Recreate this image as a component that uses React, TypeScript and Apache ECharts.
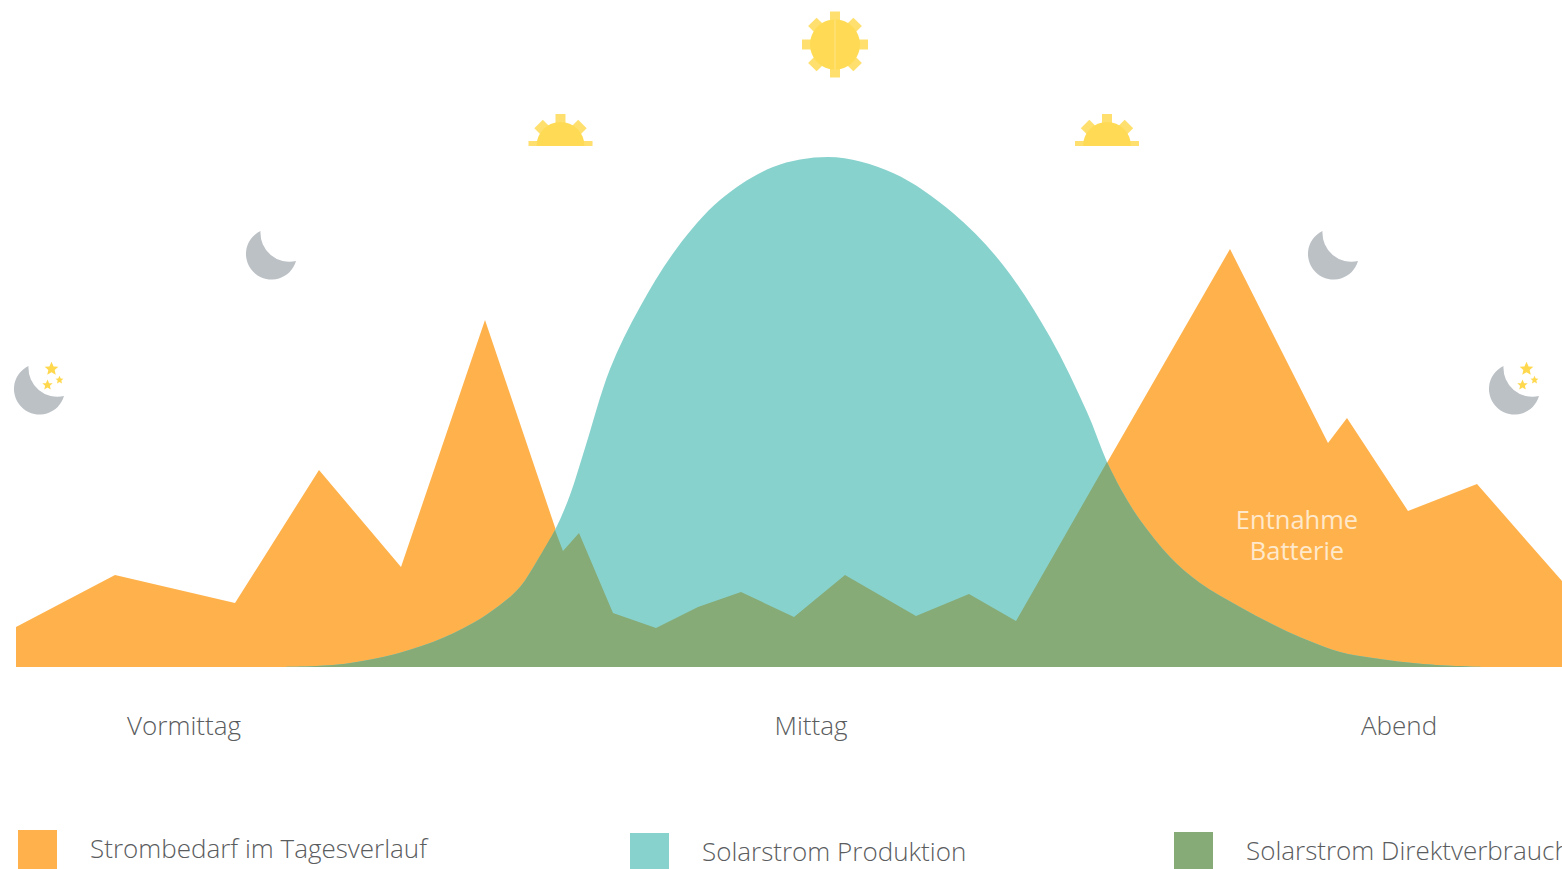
import React, { useEffect, useRef } from "react";
import * as echarts from "echarts";

// Daily energy profile, x = position along the day, y = power level (same scale for all series)
const demandX = [16, 115, 235, 319, 401, 485, 563, 579, 613, 656, 698, 741, 794, 845, 916, 969, 1016, 1230, 1328, 1347, 1408, 1477, 1562];
const demandY = [40, 92, 64, 197, 100, 347, 116, 134, 54, 39, 60, 75, 50, 92, 51, 73, 46, 418, 224, 249, 156, 183, 86];

const solarX = [275, 333, 383, 433, 473, 500, 520, 537, 555, 570, 585, 610, 640, 677, 720, 773, 828, 893, 953, 1003, 1050, 1087, 1107, 1123, 1140, 1170, 1200, 1240, 1280, 1307, 1340, 1373, 1423, 1483];
const solarY = [0, 2, 10, 25, 44, 62, 80, 106, 137, 172, 219, 298, 360, 419, 467, 500, 510, 494, 454, 402, 330, 255, 205, 174, 147, 110, 84, 60, 39, 27, 15, 9, 3, 0];

// Direct use: the rising flank of production, the demand outline at midday, the falling flank
const directRiseX = [275, 333, 383, 433, 473, 500, 520, 537, 555];
const directRiseY = [0, 2, 10, 25, 44, 62, 80, 106, 137];
const directMiddayX = [555, 563, 579, 613, 656, 698, 741, 794, 845, 916, 969, 1016, 1107];
const directMiddayY = [137, 116, 134, 54, 39, 60, 75, 50, 92, 51, 73, 46, 205];
const directFallX = [1107, 1123, 1140, 1170, 1200, 1240, 1280, 1307, 1340, 1373, 1423, 1483];
const directFallY = [205, 174, 147, 110, 84, 60, 39, 27, 15, 9, 3, 0];

const periodPositions = [184, 811, 1399];
const periodLabels = ["Vormittag", "Mittag", "Abend"];

const seriesNames = ["Strombedarf im Tagesverlauf", "Solarstrom Produktion", "Solarstrom Direktverbrauch"];
const seriesColors = ["#FFB24C", "#88D2CE", "#86AB76"];
const batteryLabel = "Entnahme\nBatterie";

const FONT = "'Open Sans', sans-serif";
const TEXT = "#5a5c5e";
const SUN = "#FFDB55";
const SUN_RAY = "#FFE06E";
const MOON = "#BCC1C6";
const STAR = "#FFD84E";

const zip = (xs: number[], ys: number[]) => xs.map((x, i) => [x, ys[i]]);

echarts.graphic.registerShape(
  "moonShape",
  echarts.graphic.extendPath("M-11 -23 A25.5 25.5 0 1 0 24.5 7 A29 29 0 0 1 -11 -23 Z", {}),
);
echarts.graphic.registerShape(
  "starShape",
  echarts.graphic.extendPath(
    "M0 -10 L2.9 -3.4 L9.5 -3.1 L4.4 1.3 L5.9 8.1 L0 4.6 L-5.9 8.1 L-4.4 1.3 L-9.5 -3.1 L-2.9 -3.4 Z",
    {},
  ),
);

function fullSun(cx: number, cy: number) {
  const rays = [0, 45, 90, 135, 180, 225, 270, 315].map((deg) => {
    const diagonal = deg % 90 !== 0;
    return {
      type: "rect",
      x: cx,
      y: cy,
      rotation: (deg * Math.PI) / 180,
      shape: diagonal
        ? { x: -6, y: -32, width: 12, height: 12 }
        : { x: -5, y: -33, width: 10, height: 12 },
      style: { fill: SUN_RAY },
    };
  });
  return [
    ...rays,
    { type: "circle", shape: { cx, cy, r: 25 }, style: { fill: SUN } },
    { type: "rect", shape: { x: cx - 1, y: cy - 25, width: 2, height: 50 }, style: { fill: SUN_RAY } },
  ];
}

function halfSun(cx: number, baseY: number) {
  const rays = [-45, 0, 45].map((deg) => ({
    type: "rect",
    x: cx,
    y: baseY,
    rotation: (deg * Math.PI) / 180,
    shape: deg === 0 ? { x: -5, y: -32, width: 10, height: 12 } : { x: -6, y: -31, width: 12, height: 12 },
    style: { fill: SUN_RAY },
  }));
  return [
    ...rays,
    { type: "rect", shape: { x: cx - 32, y: baseY - 5, width: 64, height: 5 }, style: { fill: SUN_RAY } },
    {
      type: "sector",
      shape: { cx, cy: baseY, r0: 0, r: 24, startAngle: Math.PI, endAngle: Math.PI * 2 },
      style: { fill: SUN },
    },
  ];
}

function moon(x: number, y: number) {
  return { type: "moonShape", x, y, style: { fill: MOON } };
}

function star(x: number, y: number, scale: number) {
  return { type: "starShape", x, y, scaleX: scale, scaleY: scale, style: { fill: STAR } };
}

function starryMoon(x: number, y: number) {
  return [moon(x, y), star(x + 12, y - 20, 0.72), star(x + 8, y - 4, 0.55), star(x + 20, y - 9, 0.42)];
}

function areaSeries(index: number, data: number[][], z: number, smooth: boolean) {
  return {
    name: seriesNames[index],
    type: "line",
    data,
    z,
    smooth: smooth ? 0.33 : false,
    showSymbol: false,
    silent: true,
    clip: false,
    itemStyle: { color: seriesColors[index] },
    lineStyle: { width: 0 },
    areaStyle: { color: seriesColors[index], opacity: 1 },
  };
}

function legendFor(index: number, left: number, top: number) {
  return {
    data: [seriesNames[index]],
    left,
    top,
    orient: "horizontal",
    icon: "rect",
    itemWidth: 39,
    itemHeight: 39,
    selectedMode: false,
    padding: 0,
    itemStyle: { borderWidth: 0 },
    formatter: "{label|{name}}",
    textStyle: {
      rich: {
        label: {
          fontFamily: FONT,
          fontWeight: 300,
          fontSize: 26,
          color: TEXT,
          padding: [0, 0, 4, 28],
        },
      },
    },
  };
}

export default function App() {
  const ref = useRef<HTMLDivElement>(null);

  useEffect(() => {
    const chart = echarts.init(ref.current!, undefined, { renderer: "svg" });
    chart.setOption({
      animation: false,
      backgroundColor: "#ffffff",
      grid: { left: 16, right: 0, top: 0, height: 667 },
      xAxis: {
        type: "value",
        min: 16,
        max: 1562,
        splitLine: { show: false },
        axisLine: { show: false },
        axisTick: { show: false },
        axisLabel: {
          customValues: periodPositions,
          formatter: (v: number) => periodLabels[periodPositions.indexOf(v)] ?? "",
          margin: 45,
          fontFamily: FONT,
          fontWeight: 300,
          fontSize: 26,
          color: TEXT,
        },
      },
      yAxis: { type: "value", min: 0, max: 667, show: false },
      legend: [legendFor(0, 18, 830), legendFor(1, 630, 833), legendFor(2, 1174, 832)],
      series: [
        areaSeries(0, zip(demandX, demandY), 1, false),
        areaSeries(1, zip(solarX, solarY), 2, true),
        areaSeries(2, zip(directRiseX, directRiseY), 3, true),
        areaSeries(2, zip(directMiddayX, directMiddayY), 3, false),
        areaSeries(2, zip(directFallX, directFallY), 3, true),
      ],
      graphic: [
        {
          type: "text",
          x: 1297,
          y: 534,
          z: 10,
          style: {
            text: batteryLabel,
            align: "center",
            verticalAlign: "middle",
            fontFamily: FONT,
            fontWeight: 400,
            fontSize: 25.5,
            lineHeight: 31,
            fill: "#FFE9CC",
          },
        },
        ...fullSun(835, 44.5),
        ...halfSun(560.5, 146),
        ...halfSun(1107, 146),
        moon(271.5, 254),
        moon(1333.5, 254),
        ...starryMoon(39.5, 389),
        ...starryMoon(1514.5, 389),
      ],
    });
    return () => chart.dispose();
  }, []);

  return <div ref={ref} style={{ position: "fixed", left: 0, top: 0, width: 1562, height: 869 }} />;
}
